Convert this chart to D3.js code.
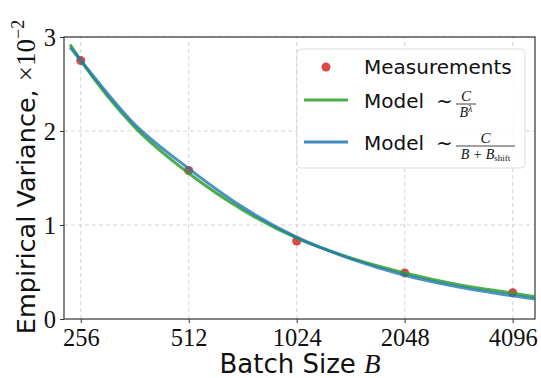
<!DOCTYPE html>
<html>
<head>
<meta charset="utf-8">
<script src="https://cdn.jsdelivr.net/npm/d3@7"></script>
<style>
    body { margin: 0; background: #fff; }
    svg { display: block; }
</style>
</head>
<body>
<div id="chart"></div>
<script>
// batch sizes and measured variance (x 10^-2)
const batchTicks = [256, 512, 1024, 2048, 4096];
const measured = [2.75, 1.58, 0.83, 0.49, 0.28];
const yTicks = [0, 1, 2, 3];

// fitted curves
const curveB = [239, 256, 362, 512, 724, 1024, 1448, 2048, 2896, 4096, 4727];
const powerFit = [2.92, 2.75, 2.04, 1.55, 1.16, 0.86, 0.65, 0.49, 0.365, 0.275, 0.237];
const shiftFit = [2.89, 2.75, 2.07, 1.60, 1.19, 0.87, 0.64, 0.465, 0.34, 0.247, 0.213];

const width = 541;
const height = 378;
const margin = { top: 37, right: 6, bottom: 59, left: 64 };

const svg = d3.select("#chart")
    .append("svg")
    .attr("width", width)
    .attr("height", height);

const x = d3.scaleLog().base(2)
    .domain([229.9, 4727])
    .range([margin.left, width - margin.right]);

const y = d3.scaleLinear()
    .domain([0, 3])
    .range([height - margin.bottom, margin.top]);

const serif = "'Liberation Serif', 'DejaVu Serif', serif";
const sans = "'DejaVu Sans', sans-serif";

// grid
svg.append("g").selectAll("line")
    .data(batchTicks)
    .enter().append("line")
    .attr("x1", d => x(d)).attr("x2", d => x(d))
    .attr("y1", y(0)).attr("y2", y(3))
    .attr("stroke", "#d4d4d4")
    .attr("stroke-dasharray", "4,3");

svg.append("g").selectAll("line")
    .data(yTicks.slice(1))
    .enter().append("line")
    .attr("x1", x.range()[0]).attr("x2", x.range()[1])
    .attr("y1", d => y(d)).attr("y2", d => y(d))
    .attr("stroke", "#d4d4d4")
    .attr("stroke-dasharray", "4,3");

// axes
const xAxis = svg.append("g")
    .attr("transform", `translate(0,${y(0)})`)
    .call(d3.axisBottom(x).tickValues(batchTicks).tickFormat(d3.format("d")).tickSize(4).tickPadding(6));

const yAxis = svg.append("g")
    .attr("transform", `translate(${x.range()[0]},0)`)
    .call(d3.axisLeft(y).tickValues(yTicks).tickFormat(d3.format("d")).tickSize(4).tickPadding(4));

[xAxis, yAxis].forEach(a => {
    a.select(".domain").remove();
    a.selectAll(".tick line").attr("stroke", "#333");
    a.selectAll(".tick text")
        .attr("fill", "#111")
        .style("font-family", serif)
        .style("font-size", "24.5px");
});
yAxis.selectAll(".tick text").attr("dy", "0.33em");

// frame
svg.append("rect")
    .attr("x", x.range()[0])
    .attr("y", y(3))
    .attr("width", x.range()[1] - x.range()[0])
    .attr("height", y(0) - y(3))
    .attr("fill", "none")
    .attr("stroke", "#333")
    .attr("stroke-width", 1.2);

// measurements
svg.append("g").selectAll("circle")
    .data(batchTicks.map((b, i) => ({ b, v: measured[i] })))
    .enter().append("circle")
    .attr("cx", d => x(d.b))
    .attr("cy", d => y(d.v))
    .attr("r", 4.5)
    .attr("fill", "#d62728")
    .attr("fill-opacity", 0.85);

// model curves
const line = d3.line()
    .x(d => x(d[0]))
    .y(d => y(d[1]))
    .curve(d3.curveMonotoneX);

svg.append("path")
    .datum(curveB.map((b, i) => [b, powerFit[i]]))
    .attr("d", line)
    .attr("fill", "none")
    .attr("stroke", "#2ca02c")
    .attr("stroke-opacity", 0.85)
    .attr("stroke-width", 3);

svg.append("path")
    .datum(curveB.map((b, i) => [b, shiftFit[i]]))
    .attr("d", line)
    .attr("fill", "none")
    .attr("stroke", "#1f77b4")
    .attr("stroke-opacity", 0.8)
    .attr("stroke-width", 3);

// axis labels
const xLabel = svg.append("text")
    .attr("x", 300)
    .attr("y", 373)
    .attr("text-anchor", "middle")
    .style("font-family", sans)
    .style("font-size", "26px")
    .attr("fill", "#111");
xLabel.append("tspan").text("Batch Size ");
xLabel.append("tspan").style("font-family", serif).style("font-style", "italic").style("font-size", "27px").text("B");

const yLabel = svg.append("text")
    .attr("transform", "translate(35,177) rotate(-90)")
    .attr("text-anchor", "middle")
    .style("font-family", sans)
    .style("font-size", "25.5px")
    .attr("fill", "#111");
yLabel.append("tspan").text("Empirical Variance, ");
yLabel.append("tspan").style("font-family", serif).style("font-size", "27px").text("×10");
yLabel.append("tspan").style("font-family", serif).style("font-size", "18px").attr("dy", "-11").text("−2");

// legend
const legend = svg.append("g");
legend.append("rect")
    .attr("x", 297).attr("y", 49)
    .attr("width", 228).attr("height", 119)
    .attr("rx", 4)
    .attr("fill", "#fff").attr("fill-opacity", 0.85)
    .attr("stroke", "#ddd");

legend.append("circle")
    .attr("cx", 326).attr("cy", 67).attr("r", 4.5)
    .attr("fill", "#d62728").attr("fill-opacity", 0.85);
legend.append("text")
    .attr("x", 364).attr("y", 74)
    .style("font-family", sans).style("font-size", "20px").attr("fill", "#111")
    .text("Measurements");

const rows = [
    { color: "#2ca02c", ly: 100, ty: 108, den: "B", sup: "λ", barW: 20 },
    { color: "#1f77b4", ly: 142, ty: 150, den: "B + B", sub: "shift", barW: 59 }
];

rows.forEach(r => {
    legend.append("line")
        .attr("x1", 304).attr("x2", 348)
        .attr("y1", r.ly).attr("y2", r.ly)
        .attr("stroke", r.color).attr("stroke-opacity", 0.85).attr("stroke-width", 3);
    legend.append("text")
        .attr("x", 364).attr("y", r.ty)
        .style("font-family", sans).style("font-size", "20px").attr("fill", "#111")
        .text("Model");
    legend.append("text")
        .attr("x", 436).attr("y", r.ty)
        .style("font-family", serif).style("font-size", "20px").attr("fill", "#111")
        .text("∼");
    const cx = 456 + r.barW / 2;
    const barY = r.ty - 4;
    legend.append("line")
        .attr("x1", 456).attr("x2", 456 + r.barW)
        .attr("y1", barY).attr("y2", barY)
        .attr("stroke", "#111").attr("stroke-width", 0.8);
    legend.append("text")
        .attr("x", cx).attr("y", barY - 3)
        .attr("text-anchor", "middle")
        .style("font-family", serif).style("font-style", "italic").style("font-size", "15px").attr("fill", "#111")
        .text("C");
    const den = legend.append("text")
        .attr("x", cx).attr("y", barY + 13)
        .attr("text-anchor", "middle")
        .style("font-family", serif).style("font-style", "italic").style("font-size", "14px").attr("fill", "#111");
    den.append("tspan").text(r.den);
    if (r.sup) {
        den.append("tspan").style("font-size", "10px").attr("dy", "-5").text(r.sup);
    }
    if (r.sub) {
        den.append("tspan").style("font-size", "9px").style("font-style", "normal").attr("dy", "2").text(r.sub);
    }
});
</script>
</body>
</html>
